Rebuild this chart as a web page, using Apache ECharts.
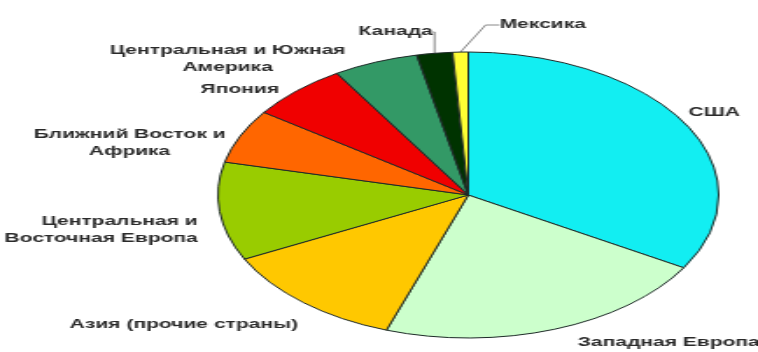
<!DOCTYPE html>
<html>
<head>
<meta charset="utf-8">
<script src="https://cdn.jsdelivr.net/npm/echarts@6/dist/echarts.min.js"></script>
<style>
html,body{margin:0;padding:0;background:#fff;overflow:hidden;}
#wrap{width:758px;height:352px;overflow:hidden;position:relative;}
#chart{width:433px;height:352px;transform:scaleX(1.7506);transform-origin:0 0;}
</style>
</head>
<body>
<div id="wrap"><div id="chart"></div></div>
<script>
const categories = ['США','Западная Европа','Азия (прочие страны)','Центральная и\nВосточная Европа','Ближний Восток и\nАфрика','Япония','Центральная и Южная\nАмерика','Канада','Мексика'];
const values = [33.5, 21.8, 12.3, 11.1, 6.1, 6.4, 5.5, 2.3, 1.0];
const colors = ['#12eef2','#ccffcc','#ffc800','#99cc00','#ff6600','#f00000','#339966','#003300','#ffff33'];
// label anchor positions (unscaled chart pixels) and alignments
const labelX = [408, 382, 105, 113, 74, 137, 130, 226, 310];
const labelY = [113, 343, 325, 230, 143, 90, 59, 32, 25];
const labelAlign = ['center','center','center','right','center','center','center','center','center'];
const showLine = [false,false,false,false,false,false,false,true,true];

const chart = echarts.init(document.getElementById('chart'));
chart.setOption({
  animation: false,
  backgroundColor: '#ffffff',
  series: [{
    type: 'pie',
    center: [267.5, 195],
    radius: 143,
    startAngle: 90,
    clockwise: true,
    avoidLabelOverlap: false,
    itemStyle: { borderColor: '#1e2a28', borderWidth: 1 },
    label: {
      show: true,
      position: 'outside',
      fontFamily: 'Liberation Sans, Arial, sans-serif',
      fontSize: 12,
      fontWeight: 'bold',
      color: '#2a2a2a',
      lineHeight: 17
    },
    labelLine: { show: false, length: 8, length2: 8, lineStyle: { color: '#888', width: 1 } },
    labelLayout: function (p) {
      const i = p.dataIndex;
      return { x: labelX[i], y: labelY[i], align: labelAlign[i], verticalAlign: 'middle' };
    },
    emphasis: { disabled: true },
    data: categories.map((c, i) => ({
      name: c,
      value: values[i],
      itemStyle: { color: colors[i] },
      labelLine: { show: showLine[i] }
    }))
  }]
});
</script>
</body>
</html>
